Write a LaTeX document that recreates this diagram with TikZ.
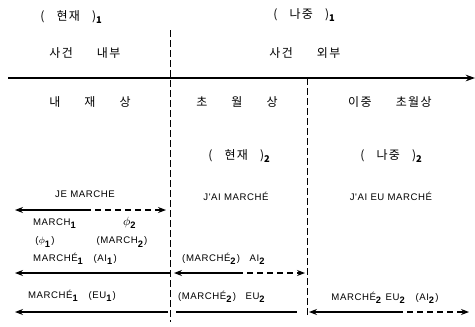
\documentclass[tikz,border=0pt]{standalone}
\usepackage{fontspec}
\setmainfont{Liberation Sans}
\newfontfamily\krfont[LetterSpace=12]{Noto Sans CJK KR}
\newfontfamily\frfont[LetterSpace=6]{Liberation Sans}
\usepackage{tikz}
\usetikzlibrary{arrows.meta, positioning}
\newcommand{\sbb}[1]{\textsubscript{\textbf{\fontsize{7}{8}\selectfont#1}}}
\tikzset{
  %% -- Korean labels --
  asp/kr/.style={font=\krfont\fontsize{9}{10}\selectfont, inner sep=1pt},
  %% -- French example labels --
  asp/fr/.style={font=\frfont\fontsize{7.2}{8}\selectfont, inner sep=1pt},
  %% -- time axis --
  asp/axis/.style={-{Stealth[length=7pt, width=5pt]}, line width=0.9pt},
  %% -- column borders --
  asp/border/.style={dashed, dash pattern=on 5pt off 2.5pt, line width=0.6pt},
  %% -- solid span, arrow to the left --
  asp/left/.style={-{Stealth[length=6pt, width=4.5pt]}, line width=0.8pt},
  %% -- dashed span, arrow to the right --
  asp/right/.style={-{Stealth[length=6pt, width=4.5pt]}, line width=0.8pt,
    dash pattern=on 4.5pt off 3pt},
  %% -- solid span, no tip --
  asp/span/.style={line width=0.8pt},
}
\begin{document}
\begin{tikzpicture}[x=0.75pt, y=-0.75pt]
\useasboundingbox (0,0) rectangle (475,326);

%% Axis and column borders
\coordinate (ax0) at (8,78);
\coordinate (ax1) at (475,78);
\coordinate (b1t) at (170,30);
\coordinate (b1b) at (170,322);
\coordinate (b2t) at (307,78);
\coordinate (b2b) at (307,315);
\draw[asp/axis] (ax0) -- (ax1);
\draw[asp/border] (b1t) -- (b1b);
\draw[asp/border] (b2t) -- (b2b);

%% Heads
\node[asp/kr] (now1)  at (72,17)  {(\quad 현재\quad )\sbb{1}};
\node[asp/kr] (late1) at (305,15) {(\quad 나중\quad )\sbb{1}};
\node[asp/kr] (inev)  at (85,53)  {사건\qquad 내부};
\node[asp/kr] (outev) at (305,53) {사건\qquad 외부};
\node[asp/kr] (imm)   at (90,102) {내\qquad 재\qquad 상};
\node[asp/kr] (trans) at (237,102) {초\qquad 월\qquad 상};
\node[asp/kr] (bitr)  at (390,102) {이중\qquad 초월상};
\node[asp/kr] (now2)  at (240,156) {(\quad 현재\quad )\sbb{2}};
\node[asp/kr] (late2) at (392,156) {(\quad 나중\quad )\sbb{2}};

%% Examples
\node[asp/fr] (je)   at (85,194)  {JE MARCHE};
\node[asp/fr] (jai)  at (236,196) {J'AI MARCHÉ};
\node[asp/fr] (jaeu) at (391,196) {J'AI EU MARCHÉ};

%% Immanent row
\coordinate (r1l) at (15,210);
\coordinate (r1m) at (85,210);
\coordinate (r1r) at (166,210);
\draw[asp/left]  (r1m) -- (r1l);
\draw[asp/right] (r1m) -- (r1r);
\node[asp/fr] (m1)   at (55,224)  {MARCH\sbb{1}};
\node[asp/fr] (z2)   at (130,223) {\fontsize{9}{10}\selectfont$\phi$\sbb{2}};
\node[asp/fr] (z1)   at (45,242)  {($\phi$\sbb{1})};
\node[asp/fr] (m2)   at (122,242) {(MARCH\sbb{2})};

%% AI row
\node[asp/fr] (ai1)  at (75,259)  {MARCHÉ\sbb{1}\quad (AI\sbb{1})};
\node[asp/fr] (ai2)  at (224,259) {(MARCHÉ\sbb{2})\quad AI\sbb{2}};
\coordinate (r2l) at (15,273);
\coordinate (r2a) at (170,273);
\coordinate (r2b) at (174,273);
\coordinate (r2m) at (237,273);
\coordinate (r2r) at (305,273);
\draw[asp/left]  (r2a) -- (r2l);
\draw[asp/left]  (r2m) -- (r2b);
\draw[asp/right] (r2m) -- (r2r);

%% EU row
\node[asp/fr] (eu1)  at (72,296)  {MARCHÉ\sbb{1}\quad (EU\sbb{1})};
\node[asp/fr] (eu2)  at (222,297) {(MARCHÉ\sbb{2})\quad EU\sbb{2}};
\node[asp/fr] (eu3)  at (385,298) {MARCHÉ\sbb{2} EU\sbb{2}\quad (AI\sbb{2})};
\coordinate (r3l) at (15,312);
\coordinate (r3a) at (168,312);
\coordinate (r3b) at (176,312);
\coordinate (r3c) at (297,312);
\coordinate (r3d) at (309,312);
\coordinate (r3m) at (397,312);
\coordinate (r3r) at (469,312);
\draw[asp/left]  (r3a) -- (r3l);
\draw[asp/span]  (r3b) -- (r3c);
\draw[asp/left]  (r3m) -- (r3d);
\draw[asp/right] (r3m) -- (r3r);
\end{tikzpicture}
\end{document}
